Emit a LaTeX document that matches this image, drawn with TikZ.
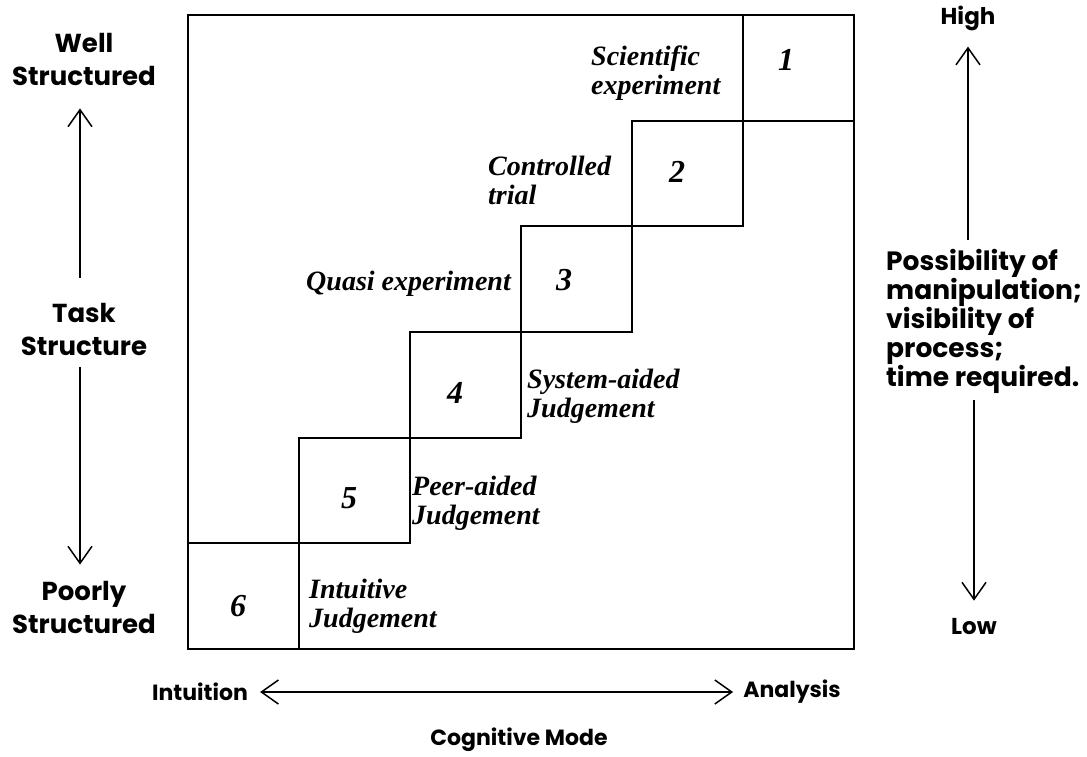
\documentclass[tikz,border=0pt]{standalone}
\usepackage{fontspec}
\setmainfont{Poppins}
\newfontfamily\labfont{Liberation Serif}
\usetikzlibrary{arrows.meta,calc}
\begin{document}
\begin{tikzpicture}[x=1pt,y=-1pt,
  sans/.style={font=\fontsize{26}{33}\selectfont\bfseries, align=center, inner sep=0pt},
  sansb/.style={font=\fontsize{22}{26}\selectfont\bfseries, align=center, inner sep=0pt},
  sansr/.style={font=\fontsize{26.5}{29}\selectfont\bfseries, align=left, inner sep=0pt},
  ital/.style={font=\labfont\fontsize{28}{29}\selectfont\bfseries\itshape, inner sep=0pt},
  num/.style={font=\labfont\fontsize{32}{34}\selectfont\bfseries\itshape, inner sep=0pt},
  stepbox/.style={draw, line width=2pt, minimum width=111pt, minimum height=105.7pt, inner sep=0pt, anchor=north west},
  tipA/.tip={Straight Barb[length=17pt,width=24pt,line width=1.5pt]},
  axis/.style={line width=1.5pt, -tipA},
  axis2/.style={line width=1.5pt, tipA-tipA}]
\useasboundingbox (0,0) rectangle (1087,756);
% frame
\node[draw, line width=2pt, minimum width=666pt, minimum height=634pt, inner sep=0pt, anchor=north west] (frame) at (187,14) {};
% step boxes
\node[stepbox] (b1) at (742,14) {};
\node[stepbox] (b2) at (631,119.7) {};
\node[stepbox] (b3) at (520,225.3) {};
\node[stepbox] (b4) at (409,331) {};
\node[stepbox] (b5) at (298,436.7) {};
\node[stepbox] (b6) at (187,542.3) {};
% numbers
\node[num] (n1) at ($(b1.north west)+(44,46)$) {1};
\node[num] (n2) at ($(b2.north west)+(46,52)$) {2};
\node[num] (n3) at ($(b3.north west)+(44,55)$) {3};
\node[num] (n4) at ($(b4.north west)+(46,62)$) {4};
\node[num] (n5) at ($(b5.north west)+(51,61)$) {5};
\node[num] (n6) at ($(b6.north west)+(51,64)$) {6};
% italic labels
\node[ital, align=left, anchor=west] (l1) at (591,73) {Scientific\\experiment};
\node[ital, align=left, anchor=west] (l2) at (488,180) {Controlled\\trial};
\node[ital, anchor=east] (l3) at (511,284) {Quasi experiment};
\node[ital, align=left, anchor=west] (l4) at (527,396) {System-aided\\Judgement};
\node[ital, align=left, anchor=west] (l5) at (412,503) {Peer-aided\\Judgement};
\node[ital, align=left, anchor=west] (l6) at (309,606) {Intuitive\\Judgement};
% left axis
\node[sans] (well) at (84,59) {Well\\Structured};
\node[sans] (task) at (84,329) {Task\\Structure};
\node[sans] (poor) at (84,607) {Poorly\\Structured};
\draw[axis, shorten >=23pt, shorten <=25pt] ([xshift=-4pt]task.north) -- ([xshift=-4pt]well.south);
\draw[axis, shorten >=16pt, shorten <=12pt] ([xshift=-4pt]task.south) -- ([xshift=-4pt]poor.north);
% right axis
\node[sansb, font=\fontsize{23}{26}\selectfont\bfseries] (high) at (968,18) {High};
\node[sansr, anchor=west] (poss) at (886,321) {Possibility of\\manipulation;\\visibility of\\process;\\time required.};
\node[sansb, font=\fontsize{23}{26}\selectfont\bfseries] (low) at (974,627) {Low};
\draw[axis, shorten >=16pt, shorten <=9pt] (high |- poss.north) -- (high.south);
\draw[axis, shorten >=18pt, shorten <=7pt] (low |- poss.south) -- (low.north);
% bottom axis
\node[sansb] (intu) at (200,692) {Intuition};
\node[sansb] (ana) at (792,692) {Analysis};
\node[sansb] (cog) at (519,740) {Cognitive Mode};
\draw[axis2, shorten >=10pt, shorten <=12pt] (intu.east) -- (ana.west);
\end{tikzpicture}
\end{document}
